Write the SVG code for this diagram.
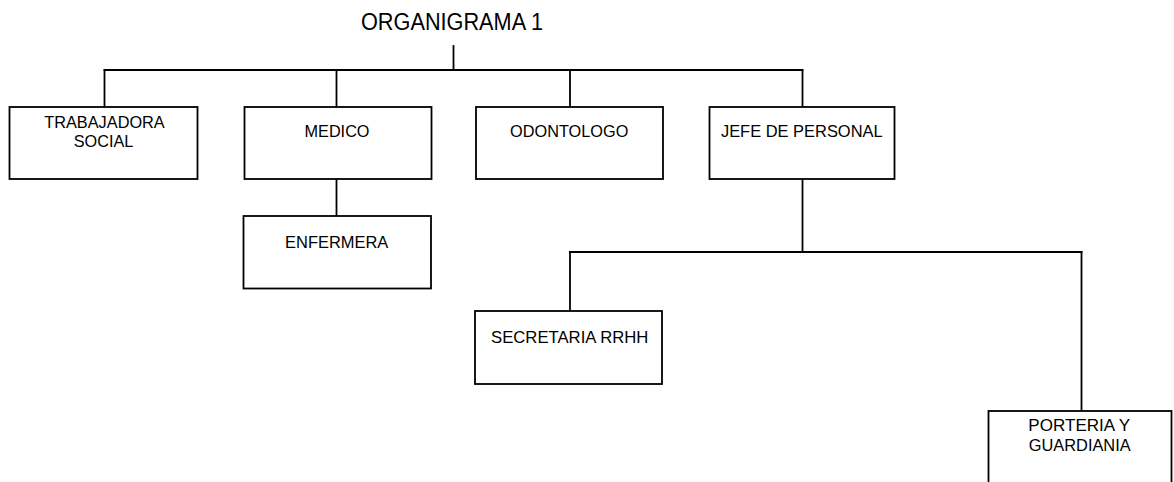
<svg xmlns="http://www.w3.org/2000/svg" width="1174" height="482" viewBox="0 0 1174 482">
  <style>
    .box { fill: #ffffff; stroke: #000000; stroke-width: 1.8; }
    .link { fill: none; stroke: #000000; stroke-width: 1.8; stroke-linecap: square; }
    .lbl { font-family: "Liberation Sans", Arial, sans-serif; font-size: 17px; fill: #000000; text-anchor: middle; }
    .title { font-family: "Liberation Sans", Arial, sans-serif; font-size: 23px; fill: #000000; text-anchor: middle; }
  </style>
  <rect width="1174" height="482" fill="#ffffff"/>

  <text class="title" x="452" y="30" textLength="182" lengthAdjust="spacingAndGlyphs">ORGANIGRAMA 1</text>

  <g id="connectors">
    <path class="link" d="M453.5 46 V70"/>
    <path class="link" d="M104.5 70 H802.5"/>
    <path class="link" d="M104.5 70 V107"/>
    <path class="link" d="M336.5 70 V107"/>
    <path class="link" d="M570 70 V107"/>
    <path class="link" d="M802.5 70 V107"/>
    <path class="link" d="M336.5 179 V216"/>
    <path class="link" d="M802.5 179 V252"/>
    <path class="link" d="M570 252 H1081.5"/>
    <path class="link" d="M570 252 V311"/>
    <path class="link" d="M1081.5 252 V411"/>
  </g>

  <g id="trabajadora-social">
    <rect class="box" x="9.5" y="107" width="188" height="72"/>
    <text class="lbl" x="104.5" y="127.5" textLength="120.5" lengthAdjust="spacingAndGlyphs">TRABAJADORA</text>
    <text class="lbl" x="103.5" y="147.3" textLength="59.5" lengthAdjust="spacingAndGlyphs">SOCIAL</text>
  </g>

  <g id="medico">
    <rect class="box" x="244.5" y="107" width="187" height="72"/>
    <text class="lbl" x="337" y="137.2" textLength="65" lengthAdjust="spacingAndGlyphs">MEDICO</text>
  </g>

  <g id="odontologo">
    <rect class="box" x="476" y="107" width="187" height="72"/>
    <text class="lbl" x="569.2" y="137.2" textLength="118.3" lengthAdjust="spacingAndGlyphs">ODONTOLOGO</text>
  </g>

  <g id="jefe-de-personal">
    <rect class="box" x="709.5" y="107" width="185" height="72"/>
    <text class="lbl" x="801.8" y="137.2" textLength="161.7" lengthAdjust="spacingAndGlyphs">JEFE DE PERSONAL</text>
  </g>

  <g id="enfermera">
    <rect class="box" x="243.5" y="216" width="187.5" height="72.5"/>
    <text class="lbl" x="336.7" y="247.6" textLength="103.3" lengthAdjust="spacingAndGlyphs">ENFERMERA</text>
  </g>

  <g id="secretaria-rrhh">
    <rect class="box" x="475" y="311" width="187" height="73"/>
    <text class="lbl" x="569.7" y="343.3" textLength="157.3" lengthAdjust="spacingAndGlyphs">SECRETARIA RRHH</text>
  </g>

  <g id="porteria-guardiania">
    <rect class="box" x="988.5" y="411" width="183" height="90"/>
    <text class="lbl" x="1079.2" y="431" textLength="101.7" lengthAdjust="spacingAndGlyphs">PORTERIA Y</text>
    <text class="lbl" x="1079.7" y="451" textLength="102" lengthAdjust="spacingAndGlyphs">GUARDIANIA</text>
  </g>
</svg>
